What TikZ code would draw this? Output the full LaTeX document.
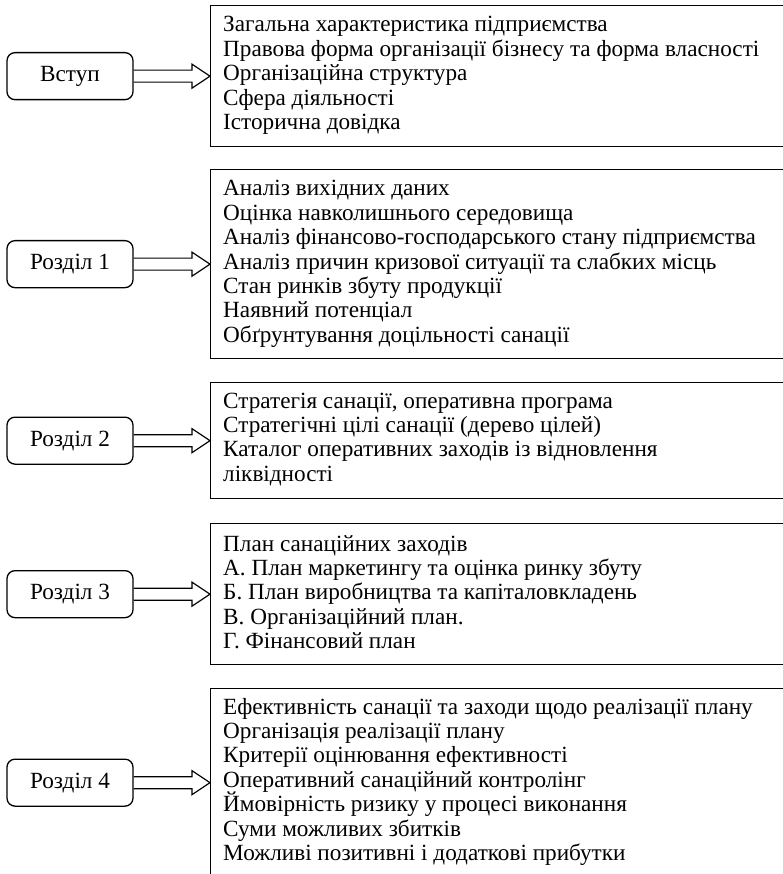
\documentclass[tikz,border=0pt]{standalone}
\usepackage{fontspec}
\setmainfont{Liberation Serif}
\newcommand\txtfont{\fontsize{23.2}{24.4}\selectfont}
\newcommand\linesbox[1]{\vtop{\baselineskip=24.4pt\lineskiplimit=-50pt\lineskip=0pt #1}}
\tikzset{
  sect/.style={draw, line width=1.3pt, rounded corners=8pt, minimum width=126pt,
    minimum height=47pt, inner sep=0pt, font=\txtfont},
  content/.style={draw, line width=1.3pt, anchor=north west, minimum width=600pt, inner sep=0pt},
  lines/.style={anchor=base west, inner sep=0pt, font=\txtfont},
  hollow/.style={draw, line width=1.2pt, line join=miter}
}
\newcommand\harrow[2]{%
  \draw[hollow] ([yshift=6pt]#1.east) -- ([xshift=-18pt,yshift=6pt]#2.west)
    -- ([xshift=-18pt,yshift=12pt]#2.west) -- (#2.west)
    -- ([xshift=-18pt,yshift=-12pt]#2.west) -- ([xshift=-18pt,yshift=-6pt]#2.west)
    -- ([yshift=-6pt]#1.east);}
\begin{document}
\begin{tikzpicture}[x=1pt,y=-1pt]
\useasboundingbox (0,0) rectangle (783,874);
\clip (0,0) rectangle (783,874);
\coordinate (lx) at (70,0);

% content boxes
\node[content, minimum height=141pt] (b1) at (210,5) {};
\node[content, minimum height=189pt] (b2) at (210,169) {};
\node[content, minimum height=116pt] (b3) at (210,382) {};
\node[content, minimum height=141pt] (b4) at (210,523) {};
\node[content, minimum height=188pt] (b5) at (210,688) {};

% texts
\node[lines] (t1) at (223,32) {\linesbox{%
  \hbox{Загальна характеристика підприємства}
  \hbox{Правова форма організації бізнесу та форма власності}
  \hbox{Організаційна структура}
  \hbox{Сфера діяльності}
  \hbox{Історична довідка}}};
\node[lines] (t2) at (223,196) {\linesbox{%
  \hbox{Аналіз вихідних даних}
  \hbox{Оцінка навколишнього середовища}
  \hbox{Аналіз фінансово-господарського стану підприємства}
  \hbox{Аналіз причин кризової ситуації та слабких місць}
  \hbox{Стан ринків збуту продукції}
  \hbox{Наявний потенціал}
  \hbox{Обґрунтування доцільності санації}}};
\node[lines] (t3) at (223,408) {\linesbox{%
  \hbox{Стратегія санації, оперативна програма}
  \hbox{Стратегічні цілі санації (дерево цілей)}
  \hbox{Каталог оперативних заходів із відновлення}
  \hbox{ліквідності}}};
\node[lines] (t4) at (223,551) {\linesbox{%
  \hbox{План санаційних заходів}
  \hbox{А. План маркетингу та оцінка ринку збуту}
  \hbox{Б. План виробництва та капіталовкладень}
  \hbox{В. Організаційний план.}
  \hbox{Г. Фінансовий план}}};
\node[lines] (t5) at (223,714) {\linesbox{%
  \hbox{Ефективність санації та заходи щодо реалізації плану}
  \hbox{Організація реалізації плану}
  \hbox{Критерії оцінювання ефективності}
  \hbox{Оперативний санаційний контролінг}
  \hbox{Ймовірність ризику у процесі виконання}
  \hbox{Суми можливих збитків}
  \hbox{Можливі позитивні і додаткові прибутки}}};

% section boxes
\node[sect] (s1) at (b1.west -| lx) {Вступ};
\node[sect] (s2) at (b2.west -| lx) {Розділ 1};
\node[sect] (s3) at (b3.west -| lx) {Розділ 2};
\node[sect] (s4) at (b4.west -| lx) {Розділ 3};
\node[sect] (s5) at (b5.west -| lx) {Розділ 4};

% arrows
\harrow{s1}{b1}
\harrow{s2}{b2}
\harrow{s3}{b3}
\harrow{s4}{b4}
\harrow{s5}{b5}
\end{tikzpicture}
\end{document}
